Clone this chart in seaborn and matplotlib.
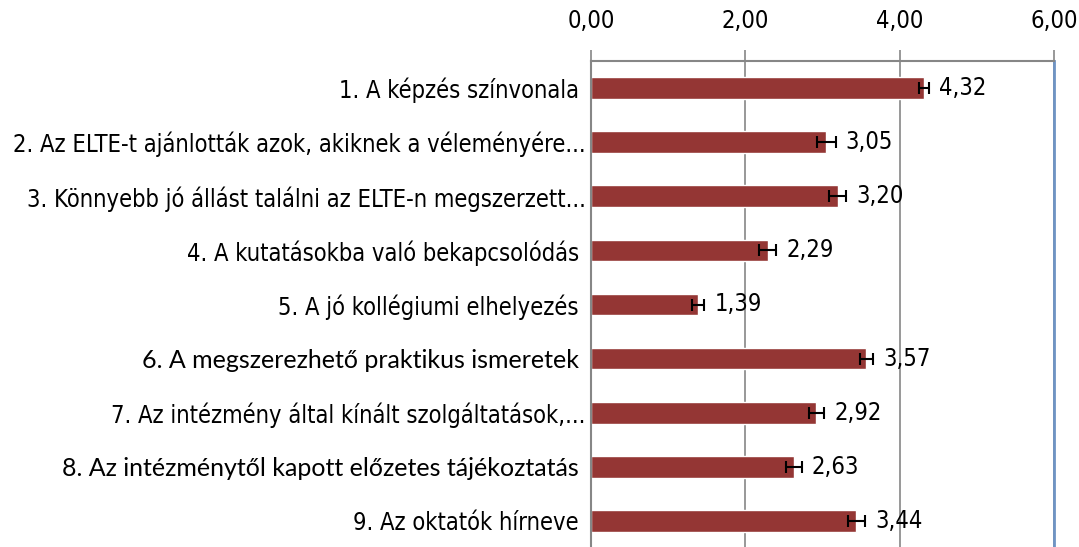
import matplotlib
matplotlib.use("Agg")
import matplotlib.pyplot as plt
import seaborn as sns
import pandas as pd
import numpy as np
from matplotlib.ticker import FixedLocator, FuncFormatter

labels = [
    "1. A képzés színvonala ",
    "2. Az ELTE-t ajánlották azok, akiknek a véleményére...",
    "3. Könnyebb jó állást találni az ELTE-n megszerzett...",
    "4. A kutatásokba való bekapcsolódás ",
    "5. A jó kollégiumi elhelyezés ",
    "6. A megszerezhető praktikus ismeretek ",
    "7. Az intézmény által kínált szolgáltatások,...",
    "8. Az intézménytől kapott előzetes tájékoztatás ",
    "9. Az oktatók hírneve ",
]
means = [4.32, 3.05, 3.20, 2.29, 1.39, 3.57, 2.92, 2.63, 3.44]
errors = [0.065, 0.12, 0.11, 0.11, 0.08, 0.09, 0.10, 0.10, 0.11]
x_ticks = [0, 2, 4, 6]
wide_font_rows = [5, 7]  # labels 6 and 8 use a different font in the original

df = pd.DataFrame({"label": labels, "mean": means, "err": errors})

sns.set_style("white")
plt.rcParams["font.family"] = ["DejaVu Sans"]
plt.rcParams["font.stretch"] = "condensed"
FS = 17

fig = plt.figure(figsize=(10.79, 5.47), dpi=100)
ax = fig.add_axes([591 / 1079, -1 / 547, (1054 - 591) / 1079, (548 - 61) / 547])

sns.barplot(data=df, x="mean", y="label", orient="h", color="#943634",
            width=0.4, errorbar=None, ax=ax, saturation=1)
ypos = np.arange(len(df))
ax.errorbar(df["mean"], ypos, xerr=df["err"], fmt="none", ecolor="black",
            elinewidth=1.5, capsize=4, capthick=1.5, zorder=4)

for y, (m, e) in enumerate(zip(df["mean"], df["err"])):
    ax.text(m + e + 0.13, y, f"{m:.2f}".replace(".", ","), va="center",
            ha="left", fontsize=FS, color="black", zorder=5)

ax.set_xlim(0, 6)
ax.set_ylim(len(df) - 0.5, -0.5)
ax.xaxis.set_major_locator(FixedLocator(x_ticks))
ax.xaxis.set_major_formatter(FuncFormatter(lambda v, p: f"{v:.2f}".replace(".", ",")))
ax.xaxis.tick_top()
ax.tick_params(axis="x", which="major", direction="out", length=8, width=1.2,
               color="#868686", labelsize=FS, pad=12, labelcolor="black")
ax.grid(axis="x", color="#868686", linewidth=1.2, zorder=0)
ax.set_axisbelow(True)

ax.set_yticks(ypos)
ax.set_yticks(np.arange(-0.5, len(df), 1), minor=True)
ax.tick_params(axis="y", which="major", length=0, labelsize=FS, pad=4,
               labelcolor="black")
ax.tick_params(axis="y", which="minor", direction="out", length=7, width=1.2,
               color="#868686")
for i, t in enumerate(ax.get_yticklabels()):
    if i in wide_font_rows:
        t.set_fontfamily(["Lato", "DejaVu Sans"])
        t.set_fontstretch("normal")
        t.set_fontsize(18)

ax.set_xlabel("")
ax.set_ylabel("")
for side in ["top", "left"]:
    ax.spines[side].set_color("#868686")
    ax.spines[side].set_linewidth(1.5)
ax.spines["bottom"].set_visible(False)
ax.spines["right"].set_color("#6f94c4")
ax.spines["right"].set_linewidth(2)

fig.savefig("out.png", dpi=100)
